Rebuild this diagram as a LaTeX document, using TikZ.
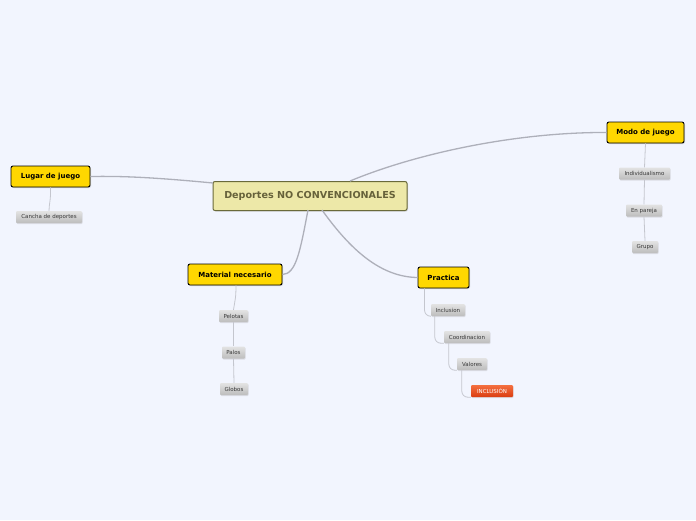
\documentclass[tikz,border=0pt]{standalone}
\usepackage{fontspec}
\setmainfont{DejaVu Sans}
\usepackage{tikz}
\usetikzlibrary{calc,shadows}

\definecolor{fondo}{HTML}{F2F5FE}
\definecolor{linea}{HTML}{AEB0BA}
\definecolor{sublinea}{HTML}{C4C6CE}
\definecolor{oro}{HTML}{FFD700}
\definecolor{caqui}{HTML}{EDE8A8}
\definecolor{oliva}{HTML}{6A6A3A}
\definecolor{textoliva}{HTML}{66613A}
\definecolor{naranjaA}{HTML}{F47040}
\definecolor{naranjaB}{HTML}{DA3C10}

\begin{document}
\begin{tikzpicture}[x=1pt,y=-1pt,
    central/.style={draw=oliva,line width=1pt,fill=caqui,rounded corners=2pt,
        minimum width=194pt,minimum height=29pt,text=textoliva,
        font=\fontsize{9.6}{12}\selectfont\bfseries,
        drop shadow={shadow xshift=1pt,shadow yshift=-1pt,opacity=0.25}},
    tema/.style={draw=black,line width=0.9pt,fill=oro,rounded corners=2pt,
        minimum height=21pt,inner sep=0pt,font=\fontsize{7}{8}\selectfont\bfseries,
        drop shadow={shadow xshift=1pt,shadow yshift=-1pt,opacity=0.3}},
    sub/.style={top color=gray!22,bottom color=gray!52,draw=none,rounded corners=1pt,
        minimum height=12pt,inner sep=0pt,text=black!78,
        font=\fontsize{5.5}{6}\selectfont,
        drop shadow={shadow xshift=0.6pt,shadow yshift=-1pt,opacity=0.2}},
    alerta/.style={sub,top color=naranjaA,bottom color=naranjaB,text=white},
    rama/.style={linea,line width=1.3pt},
    ramita/.style={sublinea,line width=0.8pt}]

    \fill[fondo] (0,0) rectangle (696,520);
    \useasboundingbox (0,0) rectangle (696,520);

    % puntos de salida en el nodo central
    \coordinate (c1) at (213,183);
    \coordinate (c2) at (350,181);
    \coordinate (c3) at (308,210);
    \coordinate (c4) at (322,210);

    \node[central] (cen) at (310,196) {Deportes NO CONVENCIONALES};

    \node[tema,minimum width=79pt] (lug) at (50.5,176.5) {Lugar de juego};
    \node[tema,minimum width=77pt] (mod) at (645.5,132.5) {Modo de juego};
    \node[tema,minimum width=94pt] (mat) at (235,274.5) {Material necesario};
    \node[tema,minimum width=51pt] (pra) at (443.5,277.5) {Practica};

    \node[sub,minimum width=66pt] (can) at (49,217) {Cancha de deportes};

    \node[sub,minimum width=51pt] (ind) at (644.5,173.5) {Individualismo};
    \node[sub,minimum width=36pt] (par) at (644,210.5) {En pareja};
    \node[sub,minimum width=26pt] (gru) at (645,247) {Grupo};

    \node[sub,minimum width=29pt] (pel) at (233.5,316) {Pelotas};
    \node[sub,minimum width=23pt] (pal) at (233.5,352.5) {Palos};
    \node[sub,minimum width=28pt] (glo) at (234,389) {Globos};

    \node[sub,minimum width=34pt] (inc) at (448,310) {Inclusion};
    \node[sub,minimum width=46pt] (coo) at (467,337) {Coordinacion};
    \node[sub,minimum width=30pt] (val) at (472,364) {Valores};
    \node[alerta,minimum width=42pt] (inu) at (492,391) {INCLUSIÓN};

    \draw[rama] (c1) .. controls (150,177) and (120,176) .. (lug.east);
    \draw[rama] (c2) .. controls (420,152) and (520,132) .. (mod.west);
    \draw[rama] (c3) .. controls (300,252) and (296,274) .. (mat.east);
    \draw[rama] (c4) .. controls (352,252) and (382,277) .. (pra.west);

    \draw[ramita] (lug.south) .. controls (51,200) and (49,204) .. (can.north);
    \draw[ramita] (mod.south) -- (ind.north);
    \draw[ramita] (ind.south) -- (par.north);
    \draw[ramita] (par.south) -- (gru.north);
    \draw[ramita] ($(mat.south)+(1,0)$) .. controls (236,298) and (235,300) .. (pel.north);
    \draw[ramita] (pel.south) -- (pal.north);
    \draw[ramita] (pal.south) -- (glo.north);

    \draw[ramita,rounded corners=6pt] ($(pra.south west)+(7,0)$) |- (inc.south west);
    \draw[ramita,rounded corners=6pt] ($(inc.south west)+(4,0)$) |- (coo.south west);
    \draw[ramita,rounded corners=6pt] ($(coo.south west)+(5,0)$) |- (val.south west);
    \draw[ramita,rounded corners=6pt] ($(val.south west)+(5,0)$) |- (inu.south west);
\end{tikzpicture}
\end{document}
